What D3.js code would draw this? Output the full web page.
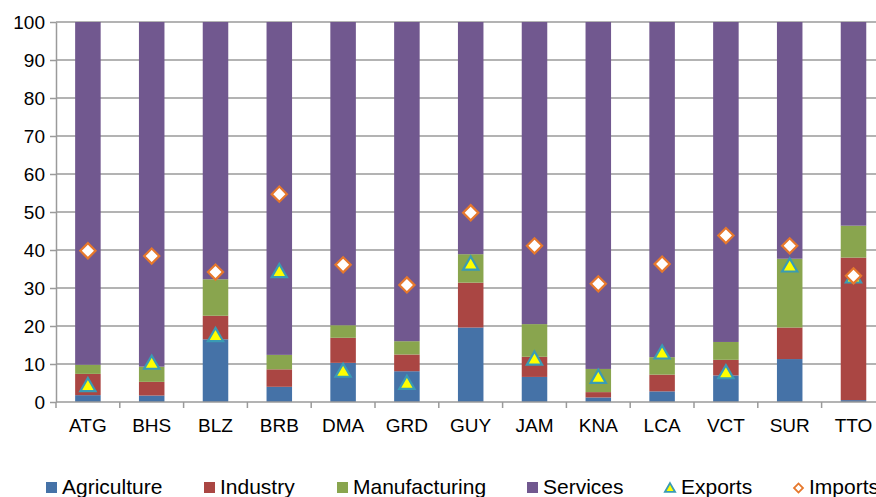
<!DOCTYPE html>
<html>
<head>
  <meta charset="utf-8">
  <title>Sector shares, exports and imports</title>
  <style>
    body { margin: 0; background: #fff; }
    text { font-family: "Liberation Sans", Arial, sans-serif; fill: #000; }
  </style>
</head>
<body>
  <script src="https://cdn.jsdelivr.net/npm/d3@7"></script>
  <script>
    // data (percent of GDP)
    const countries = ["ATG", "BHS", "BLZ", "BRB", "DMA", "GRD", "GUY", "JAM", "KNA", "LCA", "VCT", "SUR", "TTO"];
    const agriculture   = [1.8, 1.7, 16.5, 4.0, 10.3, 8.1, 19.6, 6.6, 1.2, 2.8, 7.0, 11.3, 0.5];
    const industry      = [5.6, 3.6, 6.2, 4.6, 6.6, 4.4, 11.8, 5.3, 1.4, 4.4, 4.1, 8.3, 37.5];
    const manufacturing = [2.4, 4.0, 9.6, 3.8, 3.3, 3.5, 7.5, 8.6, 6.1, 4.6, 4.7, 18.1, 8.4];
    const services = countries.map((c, i) => 100 - agriculture[i] - industry[i] - manufacturing[i]);
    const exportsPct = [4.0, 9.9, 17.2, 34.0, 7.8, 4.6, 36.0, 11.0, 6.2, 12.6, 7.4, 35.5, 32.6];
    const importsPct = [39.8, 38.4, 34.2, 54.7, 36.1, 30.8, 49.8, 41.1, 31.1, 36.3, 43.8, 41.1, 33.2];
    const yTicks = [0, 10, 20, 30, 40, 50, 60, 70, 80, 90, 100];

    const seriesNames = ["Agriculture", "Industry", "Manufacturing", "Services"];
    const seriesColors = ["#4572A7", "#AA4643", "#89A54E", "#71588F"];

    const W = 876, H = 497;
    const margin = {top: 22, left: 56};
    const plotBottom = 402;
    const step = 63.8;

    const svg = d3.select("body").append("svg")
      .attr("width", W).attr("height", H);

    const x = d3.scaleBand()
      .domain(countries)
      .range([margin.left, margin.left + step * countries.length])
      .paddingInner(0.6)
      .paddingOuter(0.3);
    const y = d3.scaleLinear().domain([0, 100]).range([plotBottom, margin.top]);

    // gridlines
    svg.append("g").selectAll("line")
      .data(yTicks.filter(d => d > 0))
      .enter().append("line")
      .attr("x1", margin.left).attr("x2", W)
      .attr("y1", d => y(d)).attr("y2", d => y(d))
      .attr("stroke", "#9a9a9a").attr("stroke-width", 1.5);

    // stacked bars
    const table = countries.map((c, i) => ({
      country: c,
      Agriculture: agriculture[i],
      Industry: industry[i],
      Manufacturing: manufacturing[i],
      Services: services[i]
    }));
    const stacked = d3.stack().keys(seriesNames)(table);

    svg.append("g").selectAll("g")
      .data(stacked)
      .enter().append("g")
      .attr("fill", (d, i) => seriesColors[i])
      .selectAll("rect")
      .data(d => d)
      .enter().append("rect")
      .attr("x", d => x(d.data.country))
      .attr("width", x.bandwidth())
      .attr("y", d => y(d[1]))
      .attr("height", d => y(d[0]) - y(d[1]));

    // y axis
    const yAxis = d3.axisLeft(y).tickValues(yTicks).tickSize(6).tickSizeOuter(0);
    const gy = svg.append("g")
      .attr("transform", "translate(" + margin.left + ",0)")
      .call(yAxis);
    gy.select(".domain").attr("stroke", "#9a9a9a").attr("stroke-width", 1.5);
    gy.selectAll(".tick line").attr("stroke", "#9a9a9a").attr("stroke-width", 1.5);
    gy.selectAll(".tick text")
      .attr("x", -11)
      .attr("font-size", "19px")
      .attr("font-family", "Liberation Sans, Arial, sans-serif");

    // x axis
    const gx = svg.append("g")
      .attr("transform", "translate(0," + plotBottom + ")");
    gx.append("line")
      .attr("x1", margin.left).attr("x2", W)
      .attr("stroke", "#9a9a9a").attr("stroke-width", 1.5);
    gx.selectAll(".sep")
      .data(d3.range(countries.length + 1))
      .enter().append("line")
      .attr("class", "sep")
      .attr("x1", i => margin.left + i * x.step())
      .attr("x2", i => margin.left + i * x.step())
      .attr("y1", 0).attr("y2", 6)
      .attr("stroke", "#9a9a9a").attr("stroke-width", 1.5);
    gx.selectAll(".lbl")
      .data(countries)
      .enter().append("text")
      .attr("class", "lbl")
      .attr("x", d => x(d) + x.bandwidth() / 2)
      .attr("y", 30)
      .attr("text-anchor", "middle")
      .attr("font-size", "19px")
      .text(d => d);

    // markers
    const tri = d3.symbol().type(d3.symbolTriangle).size(100);
    const dia = d3.symbol().type(d3.symbolSquare).size(115);

    svg.append("g").selectAll("path")
      .data(countries)
      .enter().append("path")
      .attr("d", tri)
      .attr("transform", (d, i) => "translate(" + (x(d) + x.bandwidth() / 2) + "," + y(exportsPct[i]) + ")")
      .attr("fill", "#FFFF00")
      .attr("stroke", "#3A9BB4")
      .attr("stroke-width", 2.2);

    svg.append("g").selectAll("path")
      .data(countries)
      .enter().append("path")
      .attr("d", dia)
      .attr("transform", (d, i) => "translate(" + (x(d) + x.bandwidth() / 2) + "," + y(importsPct[i]) + ") rotate(45)")
      .attr("fill", "#fff")
      .attr("stroke", "#E6782C")
      .attr("stroke-width", 2.2);

    // legend
    const legendItems = [
      {name: "Agriculture", type: "rect", color: seriesColors[0], x: 46},
      {name: "Industry", type: "rect", color: seriesColors[1], x: 204},
      {name: "Manufacturing", type: "rect", color: seriesColors[2], x: 337},
      {name: "Services", type: "rect", color: seriesColors[3], x: 527},
      {name: "Exports", type: "tri", x: 664},
      {name: "Imports", type: "dia", x: 793}
    ];
    const ly = 482;
    const lg = svg.append("g").selectAll("g")
      .data(legendItems)
      .enter().append("g")
      .attr("transform", d => "translate(" + d.x + "," + ly + ")");
    lg.filter(d => d.type === "rect").append("rect")
      .attr("x", 0).attr("y", 0).attr("width", 11).attr("height", 11)
      .attr("fill", d => d.color);
    lg.filter(d => d.type === "tri").append("path")
      .attr("d", d3.symbol().type(d3.symbolTriangle).size(45))
      .attr("transform", "translate(6,7)")
      .attr("fill", "#FFFF00").attr("stroke", "#3A9BB4").attr("stroke-width", 1.8);
    lg.filter(d => d.type === "dia").append("path")
      .attr("d", d3.symbol().type(d3.symbolSquare).size(40))
      .attr("transform", "translate(5.5,6) rotate(45)")
      .attr("fill", "#fff").attr("stroke", "#E6782C").attr("stroke-width", 1.8);
    lg.append("text")
      .attr("x", d => d.type === "rect" ? 16 : (d.type === "tri" ? 17 : 16))
      .attr("y", 12)
      .attr("font-size", "21px")
      .text(d => d.name);
  </script>
</body>
</html>
